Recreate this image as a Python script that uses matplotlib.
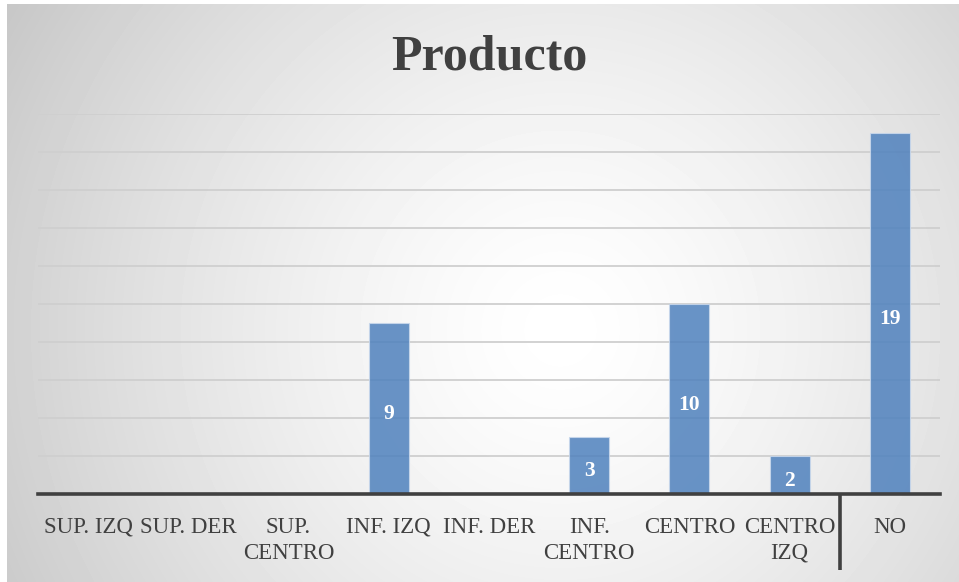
import numpy as np
import matplotlib.pyplot as plt

# Data
categorias = ['SUP. IZQ', 'SUP. DER', 'SUP.\nCENTRO', 'INF. IZQ', 'INF. DER',
              'INF.\nCENTRO', 'CENTRO', 'CENTRO\nIZQ', 'NO']
valores = [0, 0, 0, 9, 0, 3, 10, 2, 19]

plt.rcParams['font.family'] = ['Liberation Serif', 'DejaVu Serif']

W, H = 959, 582
fig = plt.figure(figsize=(W / 100, H / 100), dpi=100)
fig.patch.set_facecolor('white')

# radial grey gradient background of the chart area
bg = fig.add_axes([7 / W, 0, 952 / W, 578 / H])
yy, xx = np.mgrid[0:578, 0:952]
cx, cy = 553, 326
r = np.sqrt((xx - cx) ** 2 + (yy - cy) ** 2) / 642.0
g = 1 - 0.22 * np.clip(r, 0, 1.1) ** 1.4
bg.imshow(g, cmap='gray', vmin=0, vmax=1, aspect='auto', interpolation='bilinear')
bg.axis('off')
bg.set_zorder(0)

ax = fig.add_axes([38 / W, 88 / H, 902 / W, 380 / H])
ax.set_zorder(1)
ax.patch.set_alpha(0)

x = np.arange(len(categorias))
bars = ax.bar(x, valores, width=0.4, color='#4F81BD', alpha=0.85,
              edgecolor='#c9d8ec', linewidth=0.8, zorder=3)

# value labels, centred in the bars (slightly below centre like Excel)
for xi, v in zip(x, valores):
    if v > 0:
        ax.annotate(str(v), (xi, v / 2), xytext=(0, -4), textcoords='offset points',
                    ha='center', va='center', color='white',
                    fontsize=15.5, fontweight='bold', zorder=4)

ax.set_xlim(-0.5, len(categorias) - 0.5)
ax.set_ylim(0, 20)
ax.set_yticks(np.arange(2, 21, 2))
ax.yaxis.grid(True, color='#cfcfcf', linewidth=1.3, zorder=1)
ax.set_axisbelow(True)
ax.tick_params(axis='y', left=False, labelleft=False)
ax.tick_params(axis='x', bottom=False, pad=13, labelsize=16.5, labelcolor='#404040')
ax.set_xticks(x)
ax.set_xticklabels(categorias, linespacing=1.3)

for s in ['top', 'right', 'left']:
    ax.spines[s].set_visible(False)
ax.spines['bottom'].set_color('#404040')
ax.spines['bottom'].set_linewidth(2.6)
ax.spines['bottom'].set_zorder(5)

# divider between CENTRO IZQ and NO
ax.plot([7.5, 7.5], [0, -4.0], color='#404040', linewidth=2.6, clip_on=False,
        solid_capstyle='butt', zorder=5)

fig.text(489 / W, 1 - 57 / H, 'Producto', ha='center', va='center',
         fontsize=36, fontweight='bold', color='#404040')

fig.savefig('out.png', dpi=100)
